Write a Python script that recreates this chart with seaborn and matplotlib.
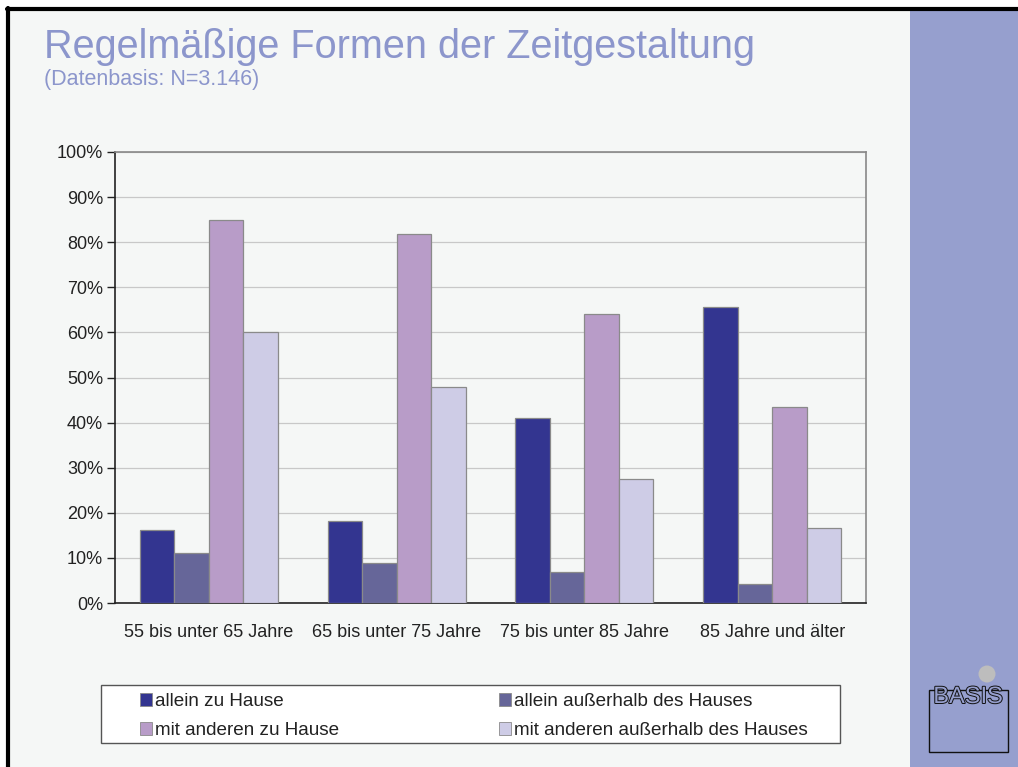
import numpy as np
import pandas as pd
import matplotlib
matplotlib.use("Agg")
import matplotlib.pyplot as plt
import matplotlib.patches as mpatches
import matplotlib.patheffects as pe
from matplotlib.ticker import FixedLocator, PercentFormatter
import seaborn as sns

# --- Daten ---
altersgruppen = ["55 bis unter 65 Jahre", "65 bis unter 75 Jahre",
                 "75 bis unter 85 Jahre", "85 Jahre und älter"]
serien = ["allein zu Hause", "allein außerhalb des Hauses",
          "mit anderen zu Hause", "mit anderen außerhalb des Hauses"]
allein_zu_hause = [16.2, 18.1, 41.0, 65.6]
allein_ausser_haus = [11.0, 8.9, 6.8, 4.3]
mit_anderen_zu_hause = [84.9, 81.8, 64.0, 43.5]
mit_anderen_ausser_haus = [60.0, 47.9, 27.4, 16.6]
farben = ["#333590", "#666699", "#B89CC8", "#CECCE6"]

werte = [allein_zu_hause, allein_ausser_haus, mit_anderen_zu_hause, mit_anderen_ausser_haus]
df = pd.DataFrame([
    {"Alter": a, "Form": s, "Anteil": v}
    for s, reihe in zip(serien, werte)
    for a, v in zip(altersgruppen, reihe)
])

sns.set_style("white")
plt.rcParams["font.family"] = ["Liberation Sans", "DejaVu Sans"]

fig = plt.figure(figsize=(10.18, 7.67), dpi=100, facecolor="white")

# Folienhintergrund, Rahmen und rechtes Band
W, H = 1018, 767
def fx(px): return px / W
def fy(py): return 1 - py / H

fig.patches.append(mpatches.Rectangle((fx(8), 0), 1 - fx(8), fy(9), transform=fig.transFigure,
                                      facecolor="#F5F7F6", edgecolor="none", zorder=-2))
fig.patches.append(mpatches.Rectangle((fx(910), 0), 1 - fx(910), fy(10), transform=fig.transFigure,
                                      facecolor="#969FCE", edgecolor="none", zorder=-1))
fig.add_artist(plt.Line2D([fx(8), fx(8)], [0, fy(8)], color="black", lw=3, transform=fig.transFigure))
fig.add_artist(plt.Line2D([fx(7), 1], [fy(8.5), fy(8.5)], color="black", lw=3, transform=fig.transFigure))

# Titel
fig.text(fx(44), fy(47), "Regelmäßige Formen der Zeitgestaltung", fontsize=28.5,
         color="#8C96CC", va="center", ha="left")
fig.text(fx(44), fy(79), "(Datenbasis: N=3.146)", fontsize=15.5,
         color="#8C96CC", va="center", ha="left")

ax = fig.add_axes([fx(115), fy(603), fx(866) - fx(115), fy(152) - fy(603)])
ax.set_zorder(2)
ax.set_facecolor("#F5F7F6")

sns.barplot(data=df, x="Alter", y="Anteil", hue="Form", hue_order=serien, palette=farben,
            width=0.735, edgecolor="#8a8a8a", linewidth=0.9, ax=ax, legend=False,
            saturation=1, zorder=3)

ax.set_ylim(0, 100)
ax.set_xlim(-0.5, 3.5)
ax.yaxis.set_major_locator(FixedLocator(np.arange(0, 101, 10)))
ax.yaxis.set_major_formatter(PercentFormatter(decimals=0))
ax.grid(axis="y", color="#C8C8C8", lw=0.9, zorder=0)
ax.set_axisbelow(True)
ax.set_xlabel("")
ax.set_ylabel("")

ax.set_xticks(range(len(altersgruppen)))
ax.set_xticklabels(altersgruppen)
ax.xaxis.set_minor_locator(FixedLocator(np.arange(-0.5, 3.6, 1)))
ax.tick_params(axis="x", which="major", length=0, pad=15, labelsize=13, colors="#222222")
ax.tick_params(axis="x", which="minor", length=6, width=1, color="#222222", direction="out")
ax.tick_params(axis="y", length=6, width=1, color="#222222", pad=2.5, labelsize=13,
               labelcolor="#222222", left=True)

for s in ["left", "bottom"]:
    ax.spines[s].set_color("#222222")
    ax.spines[s].set_linewidth(1.2)
for s in ["top", "right"]:
    ax.spines[s].set_color("#888888")
    ax.spines[s].set_linewidth(1.2)

# Legende: Rahmen separat, Einträge ohne Rahmen
fig.patches.append(mpatches.Rectangle((fx(101), fy(743)), fx(840) - fx(101), fy(685) - fy(743),
                                      transform=fig.transFigure, facecolor="white",
                                      edgecolor="#555555", lw=1.0, zorder=1))
handles = [mpatches.Patch(facecolor=c, edgecolor="#8a8a8a", lw=0.6) for c in farben]
order = [0, 2, 1, 3]
leg = fig.legend([handles[i] for i in order], [serien[i] for i in order], ncol=2,
                 loc="center left", bbox_to_anchor=(fx(140), fy(716)),
                 frameon=False, fontsize=13.6, handlelength=0.65, handleheight=0.65,
                 handletextpad=0.15, borderpad=0, labelspacing=0.62, borderaxespad=0,
                 columnspacing=8.45)
leg.set_zorder(3)
for t in leg.get_texts():
    t.set_color("#222222")

# Logo
fig.patches.append(mpatches.Rectangle((fx(929), fy(752)), fx(1008) - fx(929), fy(690) - fy(752),
                                      transform=fig.transFigure, facecolor="none",
                                      edgecolor="#111111", lw=1.0, zorder=5))
fig.patches.append(mpatches.Ellipse((fx(987), fy(674)), 17 / W, 17 / H, transform=fig.transFigure,
                                    facecolor="#BDBDBD", edgecolor="none", zorder=5))
fig.text(fx(968), fy(697), "BASIS", fontsize=17, ha="center", va="center", color="#969FCE",
         zorder=6, fontstretch="condensed",
         path_effects=[pe.withStroke(linewidth=1.4, foreground="#111111")])

fig.savefig("out.png", dpi=100, facecolor=fig.get_facecolor())
